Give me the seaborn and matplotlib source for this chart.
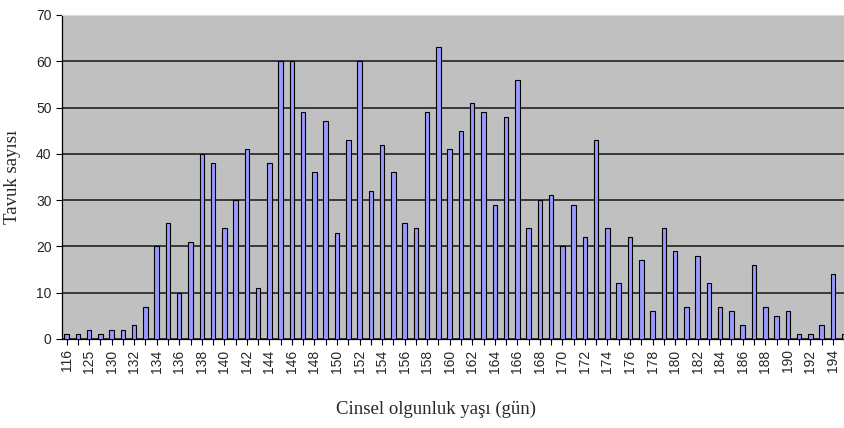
import numpy as np
import pandas as pd
import seaborn as sns
import matplotlib.pyplot as plt

# Data (umur kematangan seksual vs jumlah ayam)
yas = [116, 120, 125, 128, 130, 131, 132, 133] + list(range(134, 196))
tavuk = [1, 1, 2, 1, 2, 2, 3, 7,
         20, 25, 10, 21, 40, 38, 24, 30, 41, 11,
         38, 60, 60, 49, 36, 47, 23, 43, 60, 32,
         42, 36, 25, 24, 49, 63, 41, 45, 51, 49,
         29, 48, 56, 24, 30, 31, 20, 29, 22, 43,
         24, 12, 22, 17, 6, 24, 19, 7, 18, 12,
         7, 6, 3, 16, 7, 5, 6, 1, 1, 3, 14, 1]
etiket = [str(v) for v in yas]

df = pd.DataFrame({'yas': etiket, 'tavuk': tavuk})

sns.set_style('white')
fig = plt.figure(figsize=(8.44, 4.28), dpi=100)
ax = fig.add_axes([0.0735, 0.208, 0.93, 0.757])
ax.set_facecolor('#c0c0c0')

sns.barplot(data=df, x='yas', y='tavuk', order=etiket, color='#9999ff',
            edgecolor='black', linewidth=0.8, width=0.4, saturation=1, ax=ax, zorder=3)

ax.set_ylim(0, 70)
ax.set_yticks(range(0, 71, 10))
ax.yaxis.grid(True, color='#222222', linewidth=1.2, zorder=0)
ax.set_axisbelow(True)
ax.set_xlim(-0.4, len(etiket) - 0.75)

ax.set_xticks(range(0, len(etiket), 2))
ax.set_xticklabels(etiket[::2], rotation=90, fontsize=10, family='Liberation Sans')
ax.set_xticks(range(len(etiket)), minor=True)
ax.tick_params(axis='x', which='both', direction='out', length=4, width=0.8, color='black', bottom=True)
ax.tick_params(axis='y', direction='out', length=4, width=0.8, color='black', left=True,
               labelsize=10)
for lab in ax.get_yticklabels():
    lab.set_family('Liberation Sans')

for s in ['left', 'bottom']:
    ax.spines[s].set_color('black')
    ax.spines[s].set_linewidth(0.9)
ax.spines['top'].set_color('#dddddd')
ax.spines['right'].set_visible(False)

ax.set_xlabel('Cinsel olgunluk yaşı (gün)', family='Liberation Serif', fontsize=13.5)
ax.set_ylabel('Tavuk sayısı', family='Liberation Serif', fontsize=13.5)
ax.xaxis.set_label_coords(0.476, -0.19)
ax.yaxis.set_label_coords(-0.052, 0.5)

fig.savefig('out.png', dpi=100)
